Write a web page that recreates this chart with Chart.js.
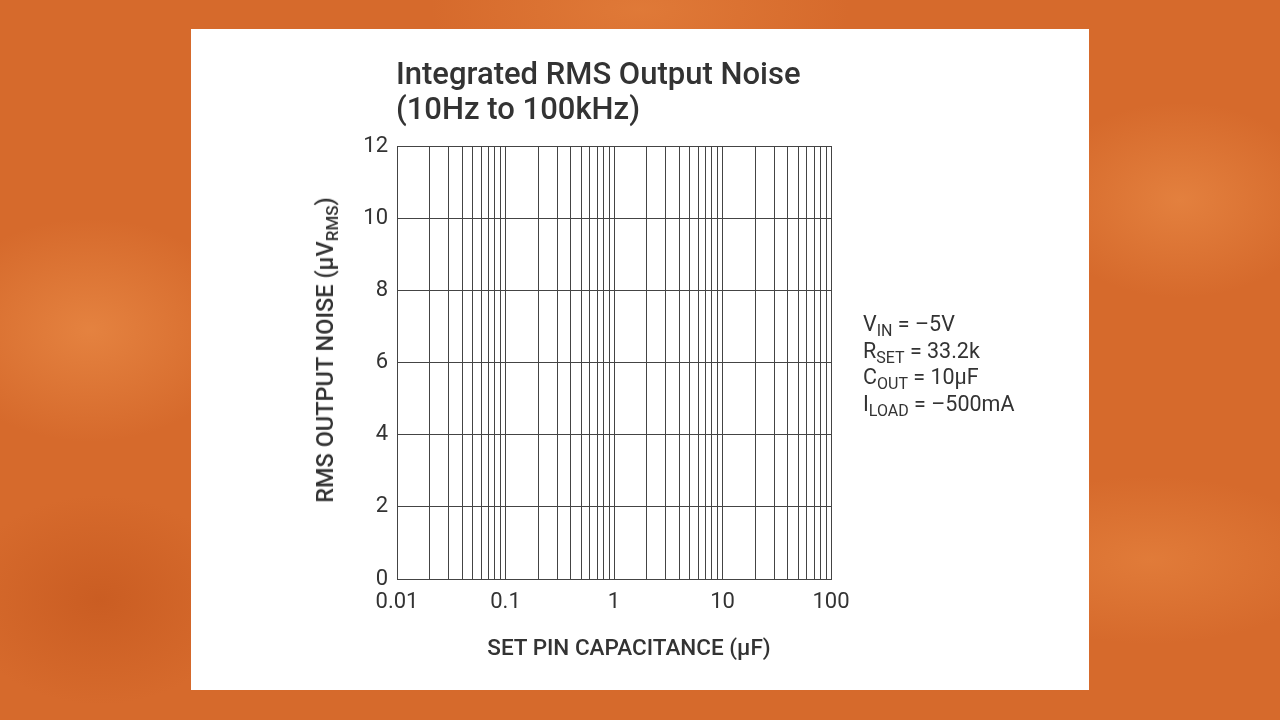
<!DOCTYPE html>
<html>
<head>
<meta charset="utf-8">
<script src="https://cdn.jsdelivr.net/npm/chart.js@4"></script>
<style>
  html, body { margin:0; padding:0; width:1280px; height:720px; overflow:hidden; }
  body {
    font-family: Roboto, "Noto Sans", sans-serif;
    background:
      radial-gradient(ellipse 220px 160px at 90px 330px, rgba(240,150,80,0.55), rgba(240,150,80,0) 70%),
      radial-gradient(ellipse 200px 140px at 1180px 200px, rgba(240,150,80,0.5), rgba(240,150,80,0) 70%),
      radial-gradient(ellipse 260px 120px at 1150px 560px, rgba(235,140,70,0.5), rgba(235,140,70,0) 70%),
      radial-gradient(ellipse 300px 120px at 640px 10px, rgba(235,140,70,0.45), rgba(235,140,70,0) 70%),
      radial-gradient(ellipse 200px 150px at 100px 600px, rgba(190,80,25,0.5), rgba(190,80,25,0) 70%),
      #d66a2c;
  }
  #panel { position:absolute; left:191px; top:29px; width:898px; height:661px; background:#fff; }
  #wrap { position:absolute; left:0; top:0; width:1280px; height:720px; }
  .txt { position:absolute; color:#333; white-space:nowrap; }
  #title { left:396px; top:56px; font-size:31px; font-weight:500; line-height:35px; }
  #notes { left:863px; top:311px; font-size:21.5px; line-height:26.5px; }
  #notes sub { font-size:16px; vertical-align:-5px; line-height:0; }
  #ytitle { left:325px; top:350px; font-size:23.5px; font-weight:500; transform:translate(-50%,-50%) rotate(-90deg); }
  #ytitle sub { font-size:17px; vertical-align:-5px; line-height:0; }
  #xtitle { left:629px; top:647px; font-size:22.5px; font-weight:500; transform:translate(-50%,-50%); }
</style>
</head>
<body>
<div id="panel"></div>
<div id="wrap"><canvas id="c" width="1280" height="720"></canvas></div>
<div class="txt" id="title">Integrated RMS Output Noise<br>(10Hz to 100kHz)</div>
<div class="txt" id="ytitle">RMS OUTPUT NOISE (µV<sub>RMS</sub>)</div>
<div class="txt" id="xtitle">SET PIN CAPACITANCE (µF)</div>
<div class="txt" id="notes">V<sub>IN</sub> = –5V<br>R<sub>SET</sub> = 33.2k<br>C<sub>OUT</sub> = 10µF<br>I<sub>LOAD</sub> = –500mA</div>
<script>
// x grid: 1..9 in every decade from 0.01 to 100
const xGrid = [
  0.01,0.02,0.03,0.04,0.05,0.06,0.07,0.08,0.09,
  0.1,0.2,0.3,0.4,0.5,0.6,0.7,0.8,0.9,
  1,2,3,4,5,6,7,8,9,
  10,20,30,40,50,60,70,80,90,
  100
];
const xLabels = [0.01, 0.1, 1, 10, 100];
const yTicks = [0, 2, 4, 6, 8, 10, 12];
// the reference shows an empty grid, no curve plotted
const noiseData = [];

const gridColor = '#444';
const tickFont = { family: 'Roboto', size: 22 };

new Chart(document.getElementById('c'), {
  type: 'line',
  data: { datasets: [{ data: noiseData, borderColor: '#333', pointRadius: 0 }] },
  options: {
    responsive: false, animation: false,
    layout: { padding: { left: 337, top: 146, right: 449, bottom: 101 } },
    plugins: { legend: { display: false }, tooltip: { enabled: false } },
    scales: {
      x: {
        type: 'logarithmic', min: 0.01, max: 100,
        afterBuildTicks: (s) => { s.ticks = xGrid.map(v => ({ value: v })); },
        afterFit: (s) => { s.height = 40; },
        grid: { color: gridColor, lineWidth: 1, drawTicks: false },
        border: { color: gridColor, width: 1 },
        ticks: {
          autoSkip: false, maxRotation: 0, padding: 10, color: '#333', font: tickFont,
          callback: (v) => xLabels.includes(v) ? String(v) : ''
        }
      },
      y: {
        min: 0, max: 12,
        afterBuildTicks: (s) => { s.ticks = yTicks.map(v => ({ value: v })); },
        afterFit: (s) => { s.width = 60; },
        grid: { color: gridColor, lineWidth: 1, drawTicks: false },
        border: { color: gridColor, width: 1 },
        ticks: { padding: 9, color: '#333', font: tickFont }
      }
    }
  }
});
</script>
</body>
</html>
